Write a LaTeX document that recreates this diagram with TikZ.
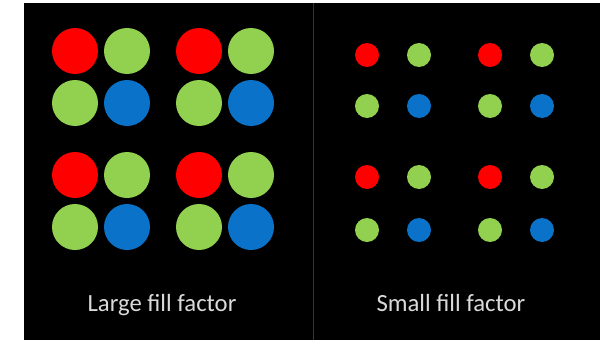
\documentclass[tikz,border=0pt]{standalone}
\usepackage{fontspec}
\setmainfont{Carlito}
\usepackage{xcolor}
\definecolor{rojo}{HTML}{FF0000}
\definecolor{verde}{HTML}{92D050}
\definecolor{azul}{HTML}{0A72C8}
\definecolor{texto}{HTML}{DADADA}
\begin{document}
\begin{tikzpicture}[x=1pt, y=-1pt,
      big/.style={circle, inner sep=0pt, minimum size=46pt},
      sml/.style={circle, inner sep=0pt, minimum size=24pt},
      lbl/.style={text=texto, anchor=base, font=\fontsize{24.7}{30}\selectfont}]
    \useasboundingbox (0,0) rectangle (611,343);
    \fill[black] (24,3) rectangle (600,340);
    \draw[line width=0.8pt, black!80!white] (313,3) -- (313,340);
    % large fill factor
    \node[big, fill=rojo] (l11) at (75,51) {};  \node[big, fill=verde] (l12) at (127,51) {};
    \node[big, fill=rojo] (l13) at (199,51) {}; \node[big, fill=verde] (l14) at (251,51) {};
    \node[big, fill=verde] (l21) at (75,103) {};  \node[big, fill=azul] (l22) at (127,103) {};
    \node[big, fill=verde] (l23) at (199,103) {}; \node[big, fill=azul] (l24) at (251,103) {};
    \node[big, fill=rojo] (l31) at (75,175) {};  \node[big, fill=verde] (l32) at (127,175) {};
    \node[big, fill=rojo] (l33) at (199,175) {}; \node[big, fill=verde] (l34) at (251,175) {};
    \node[big, fill=verde] (l41) at (75,227) {};  \node[big, fill=azul] (l42) at (127,227) {};
    \node[big, fill=verde] (l43) at (199,227) {}; \node[big, fill=azul] (l44) at (251,227) {};
    % small fill factor
    \node[sml, fill=rojo] (s11) at (367,55) {};  \node[sml, fill=verde] (s12) at (419,55) {};
    \node[sml, fill=rojo] (s13) at (490,55) {};  \node[sml, fill=verde] (s14) at (542,55) {};
    \node[sml, fill=verde] (s21) at (367,106) {}; \node[sml, fill=azul] (s22) at (419,106) {};
    \node[sml, fill=verde] (s23) at (490,106) {}; \node[sml, fill=azul] (s24) at (542,106) {};
    \node[sml, fill=rojo] (s31) at (367,177) {};  \node[sml, fill=verde] (s32) at (419,177) {};
    \node[sml, fill=rojo] (s33) at (490,177) {};  \node[sml, fill=verde] (s34) at (542,177) {};
    \node[sml, fill=verde] (s41) at (367,230) {}; \node[sml, fill=azul] (s42) at (419,230) {};
    \node[sml, fill=verde] (s43) at (490,230) {}; \node[sml, fill=azul] (s44) at (542,230) {};
    \node[lbl] (tl) at (162,311) {Large fill factor};
    \node[lbl] (ts) at (451,311) {Small fill factor};
  \end{tikzpicture}
\end{document}
